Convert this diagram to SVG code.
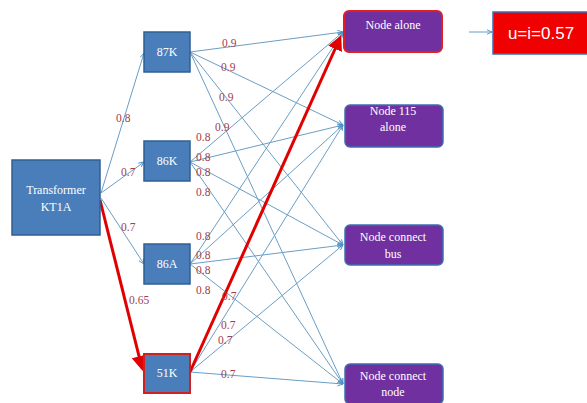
<svg xmlns="http://www.w3.org/2000/svg" width="587" height="403" viewBox="0 0 587 403">
<defs>
<marker id="ab" viewBox="0 0 10 10" refX="9" refY="5" markerWidth="6" markerHeight="6" orient="auto-start-reverse"><path d="M0,1 L9,5 L0,9" fill="none" stroke="#4a90c8" stroke-width="1.5"/></marker>
<marker id="ar" viewBox="0 0 10 10" refX="8" refY="5" markerWidth="5" markerHeight="5" orient="auto"><path d="M0,0 L10,5 L0,10 Z" fill="#e00000"/></marker>
</defs>
<style>
.mid{fill:#4a7ebb;stroke:#2f5f92;stroke-width:1.5}
.pur{fill:#7030a0;stroke:#3a6fb0;stroke-width:1.5}
.nt{font-family:'Liberation Serif','DejaVu Serif',serif;font-size:12px;fill:#ffffff;text-anchor:middle}
.lb{font-family:'Liberation Serif','DejaVu Serif',serif;font-size:11.5px;fill:#a04050}
.c{stroke:#6a9ec4;stroke-width:1;fill:none;marker-end:url(#ab)}
.r{stroke:#e00000;stroke-width:3;fill:none;marker-end:url(#ar)}
</style>
<rect width="587" height="403" fill="#ffffff"/>
<g id="connectors">
<line class="c" x1="101" y1="193" x2="144" y2="53"/>
<line class="c" x1="101" y1="193" x2="144" y2="162"/>
<line class="c" x1="101" y1="198" x2="144" y2="264"/>
<line class="c" x1="469" y1="32" x2="492" y2="32"/>
<line class="c" x1="190" y1="52" x2="343" y2="32"/>
<line class="c" x1="190" y1="52" x2="343" y2="125"/>
<line class="c" x1="190" y1="52" x2="343" y2="245"/>
<line class="c" x1="190" y1="52" x2="343" y2="384"/>
<line class="c" x1="190" y1="162" x2="343" y2="32"/>
<line class="c" x1="190" y1="162" x2="343" y2="125"/>
<line class="c" x1="190" y1="162" x2="343" y2="245"/>
<line class="c" x1="190" y1="162" x2="343" y2="384"/>
<line class="c" x1="190" y1="264" x2="343" y2="32"/>
<line class="c" x1="190" y1="264" x2="343" y2="125"/>
<line class="c" x1="190" y1="264" x2="343" y2="245"/>
<line class="c" x1="190" y1="264" x2="343" y2="384"/>
<line class="c" x1="190" y1="372" x2="343" y2="125"/>
<line class="c" x1="190" y1="372" x2="343" y2="245"/>
<line class="c" x1="190" y1="372" x2="343" y2="384"/>
<line class="r" x1="100" y1="200" x2="142" y2="368"/>
<line class="r" x1="190" y1="372" x2="340" y2="38"/>
</g>
<g id="labels" font-family="Liberation Serif, serif">
<text class="lb" x="116" y="122">0.8</text>
<text class="lb" x="121" y="176">0.7</text>
<text class="lb" x="121" y="231">0.7</text>
<text class="lb" x="129" y="304">0.65</text>
<text class="lb" x="222" y="47">0.9</text>
<text class="lb" x="221" y="71">0.9</text>
<text class="lb" x="219" y="101">0.9</text>
<text class="lb" x="215" y="131">0.9</text>
<text class="lb" x="196" y="141">0.8</text>
<text class="lb" x="196" y="161">0.8</text>
<text class="lb" x="196" y="176">0.8</text>
<text class="lb" x="196" y="196">0.8</text>
<text class="lb" x="196" y="240">0.8</text>
<text class="lb" x="196" y="259">0.8</text>
<text class="lb" x="196" y="274">0.8</text>
<text class="lb" x="196" y="294">0.8</text>
<text class="lb" x="222" y="300">0.7</text>
<text class="lb" x="221" y="329">0.7</text>
<text class="lb" x="218" y="344">0.7</text>
<text class="lb" x="221" y="378">0.7</text>
</g>
<g id="transformer">
<rect class="mid" x="12" y="160" width="88" height="75"/>
<text class="nt" x="56" y="194">Transformer</text>
<text class="nt" x="56" y="211">KT1A</text>
</g>
<g id="n87K"><rect class="mid" x="144" y="32" width="46" height="40"/><text class="nt" x="167" y="56">87K</text></g>
<g id="n86K"><rect class="mid" x="144" y="141" width="46" height="40"/><text class="nt" x="167" y="165">86K</text></g>
<g id="n86A"><rect class="mid" x="144" y="244" width="46" height="40"/><text class="nt" x="167" y="268">86A</text></g>
<g id="n51K"><rect class="mid" x="144" y="354" width="46" height="39" style="stroke:#d02020;stroke-width:2"/><text class="nt" x="167" y="377">51K</text></g>
<g id="nodeAlone"><rect class="pur" x="344" y="11" width="98" height="41" rx="5" style="stroke:#e02020;stroke-width:2"/><text class="nt" x="393" y="29">Node  alone</text></g>
<g id="node115"><rect class="pur" x="345" y="105" width="98" height="42" rx="5"/><text class="nt" x="393" y="115">Node 115</text><text class="nt" x="393" y="131">alone</text></g>
<g id="nodeBus"><rect class="pur" x="345" y="225" width="98" height="40" rx="5"/><text class="nt" x="393" y="241">Node connect</text><text class="nt" x="393" y="258">bus</text></g>
<g id="nodeNode"><rect class="pur" x="345" y="364" width="98" height="40" rx="5"/><text class="nt" x="393" y="380">Node connect</text><text class="nt" x="393" y="396">node</text></g>
<g id="result"><rect x="493" y="12" width="96" height="42" fill="#f00000" stroke="#3a6fb0" stroke-width="1.5"/><text x="541" y="39" font-family="Liberation Sans,sans-serif" font-size="17" fill="#ffffff" text-anchor="middle">u=i=0.57</text></g>
</svg>
